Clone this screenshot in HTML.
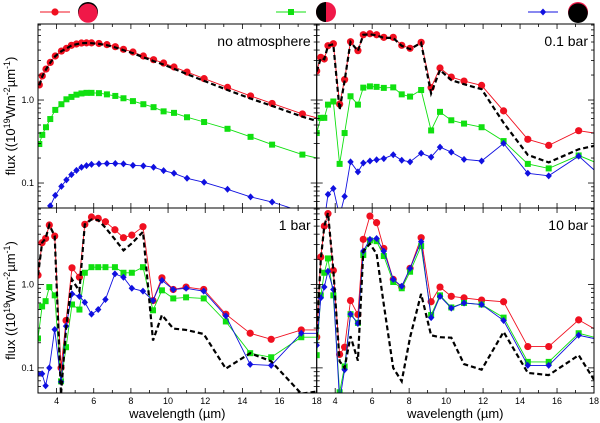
<!DOCTYPE html>
<html><head><meta charset="utf-8"><style>
body{margin:0;background:#fff;}
svg{display:block;font-family:"Liberation Sans",sans-serif;}
</style></head><body>
<svg id="c" width="600" height="423" viewBox="0 0 600 423"></svg>
<script>
// ---- data ----
const wlNoAtm=[3.07,3.23,3.43,3.66,3.93,4.26,4.53,4.8,5.07,5.34,5.61,5.88,6.28,6.71,7.16,7.6,8.11,8.67,9.22,9.76,10.32,11.02,11.94,13.2,14.44,15.6,17.23,18];
const noAtmRed=[1.52,1.95,2.36,2.84,3.39,3.89,4.19,4.56,4.73,4.86,4.88,4.88,4.8,4.65,4.39,4.08,3.79,3.39,3.06,2.79,2.5,2.17,1.81,1.42,1.12,0.91,0.68,0.61];
const noAtmBlack=[1.5,1.93,2.34,2.82,3.37,3.87,4.17,4.54,4.71,4.84,4.86,4.84,4.74,4.57,4.3,3.98,3.68,3.27,2.94,2.67,2.38,2.05,1.7,1.32,1.04,0.85,0.63,0.56];
const noAtmGreen=[0.295,0.38,0.47,0.59,0.76,0.89,1.02,1.09,1.16,1.2,1.22,1.22,1.21,1.17,1.12,1.05,0.97,0.89,0.82,0.73,0.7,0.62,0.543,0.45,0.36,0.29,0.22,0.2];
const noAtmBlue=[0.03,0.035,0.042,0.053,0.071,0.091,0.109,0.126,0.142,0.155,0.162,0.168,0.17,0.172,0.172,0.17,0.163,0.161,0.155,0.141,0.131,0.114,0.102,0.084,0.068,0.059,0.045,0.04];
const wl=[3.0,3.22,3.41,3.61,3.9,4.24,4.51,4.83,5.23,5.52,5.88,6.24,6.63,7.14,7.6,8.05,8.65,9.19,9.67,10.28,10.97,11.92,13.11,14.42,15.55,17.17,18.0];
const p01Red=[2.24,3.27,3.12,4.51,4.77,0.89,1.76,5.04,3.93,6.12,6.29,6.12,5.69,5.69,4.56,4.2,4.96,1.41,2.43,1.89,1.69,1.5,0.74,0.336,0.284,0.427,0.4];
const p01Black=[2.2,3.2,3.1,4.5,4.7,0.76,1.7,5.0,3.9,6.1,6.2,6.0,5.6,5.6,4.5,4.1,4.9,1.2,2.3,1.74,1.55,1.35,0.53,0.218,0.177,0.255,0.28];
const p01Green=[0.4,0.61,0.61,0.88,0.96,0.17,0.4,1.11,0.88,1.41,1.46,1.44,1.4,1.42,1.17,1.1,1.32,0.43,0.72,0.57,0.52,0.47,0.32,0.17,0.15,0.215,0.18];
const p01Blue=[0.03,0.03,0.035,0.073,0.086,0.04,0.069,0.18,0.136,0.174,0.184,0.191,0.197,0.219,0.188,0.18,0.228,0.205,0.271,0.236,0.193,0.184,0.3,0.131,0.122,0.211,0.144];
const p1Red=[1.29,3.16,3.56,5.15,3.8,0.1,0.37,1.58,1.22,5.25,6.43,6.2,5.64,4.52,3.63,3.9,4.92,0.64,1.2,0.87,0.93,0.87,0.44,0.26,0.22,0.285,0.285];
const p1Black=[1.29,3.16,3.56,5.15,3.8,0.048,0.3,1.15,0.83,5.25,6.0,5.9,4.78,3.47,2.56,3.1,4.27,0.213,0.43,0.296,0.285,0.255,0.098,0.15,0.12,0.049,0.052];
const p1Green=[0.225,0.545,0.63,0.93,0.74,0.069,0.177,0.575,0.5,1.38,1.61,1.61,1.61,1.61,1.38,1.38,1.61,0.49,0.85,0.68,0.7,0.68,0.36,0.15,0.134,0.233,0.233];
const p1Blue=[0.085,0.085,0.061,0.1,0.288,0.068,0.316,0.77,0.72,0.61,0.44,0.5,0.66,1.34,1.22,0.9,0.83,0.64,1.12,0.87,0.9,0.83,0.42,0.11,0.107,0.26,0.26];
const p10Red=[0.233,2.13,5.0,7.05,1.47,0.145,0.177,0.64,0.436,3.47,6.6,5.5,2.7,1.15,0.93,1.56,3.63,0.62,0.93,0.72,0.69,0.65,0.62,0.18,0.18,0.376,0.296];
const p10Black=[0.233,2.0,5.0,7.2,1.5,0.12,0.1,0.24,0.122,2.5,3.07,2.33,0.575,0.1,0.069,0.233,0.77,0.246,0.233,0.23,0.111,0.095,0.27,0.087,0.082,0.142,0.072];
const p10Green=[0.142,0.74,1.38,2.05,0.74,0.051,0.104,0.44,0.346,2.25,3.37,3.3,2.19,1.07,0.9,1.42,2.88,0.43,0.74,0.53,0.6,0.575,0.4,0.118,0.118,0.26,0.233];
const p10Blue=[0.187,0.69,0.93,1.44,0.87,0.04,0.095,0.44,0.34,2.51,3.47,3.55,2.51,1.15,0.95,1.56,3.25,0.4,0.72,0.52,0.6,0.575,0.37,0.107,0.107,0.246,0.225];
const panelLabels=["no atmosphere","0.1 bar","1 bar","10 bar"];
const xTicks=[4,6,8,10,12,14,16,18];
const yTicks=[0.1,1.0];
const yTickLabels=["0.1","1.0"];

// ---- layout ----
const NS="http://www.w3.org/2000/svg";
const svg=document.getElementById('c');
function mk(tag,attrs,parent){const e=document.createElementNS(NS,tag);for(const k in attrs)e.setAttribute(k,attrs[k]);(parent||svg).appendChild(e);return e;}
const panels=[{x0:38,x1:316.7,y0:24,y1:208},{x0:316.7,x1:594,y0:24,y1:208},{x0:38,x1:316.7,y0:208,y1:393},{x0:316.7,x1:594,y0:208,y1:393}];
const XMIN=3,XMAX=18,YLO=0.05,YHI=8.24;
function sx(p,v){return p.x0+(v-XMIN)/(XMAX-XMIN)*(p.x1-p.x0);}
function sy(p,v){return p.y1-(Math.log10(v)-Math.log10(YLO))/(Math.log10(YHI)-Math.log10(YLO))*(p.y1-p.y0);}
const defs=mk('defs',{});
const series=[
 [[wlNoAtm,noAtmRed,'red'],[wlNoAtm,noAtmGreen,'green'],[wlNoAtm,noAtmBlue,'blue'],[wlNoAtm,noAtmBlack,'black']],
 [[wl,p01Red,'red'],[wl,p01Green,'green'],[wl,p01Blue,'blue'],[wl,p01Black,'black']],
 [[wl,p1Red,'red'],[wl,p1Green,'green'],[wl,p1Blue,'blue'],[wl,p1Black,'black']],
 [[wl,p10Red,'red'],[wl,p10Green,'green'],[wl,p10Blue,'blue'],[wl,p10Black,'black']]];
const colors={red:'#f01020',green:'#10e010',blue:'#1010e0',black:'#000'};
function marker(g,kind,x,y){
 let m;
 if(kind==='red')m=mk('circle',{cx:x,cy:y,r:3.6,fill:'#f01020'},g);
 else if(kind==='green')m=mk('rect',{x:x-3,y:y-3,width:6,height:6,fill:'#10e010'},g);
 else m=mk('path',{d:`M${x} ${y-3.5}L${x+3.2} ${y}L${x} ${y+3.5}L${x-3.2} ${y}Z`,fill:'#1010e0'},g);
 return m;
}
panels.forEach((p,i)=>{
 const cp=mk('clipPath',{id:'cp'+i},defs);
 mk('rect',{x:p.x0,y:p.y0,width:p.x1-p.x0,height:p.y1-p.y0},cp);
 const g=mk('g',{'clip-path':`url(#cp${i})`});
 
 
 series[i].forEach(([xs,ys,col])=>{
  const d=xs.map((x,k)=>(k?'L':'M')+sx(p,x).toFixed(1)+' '+sy(p,ys[k]).toFixed(1)).join('');
  const l=mk('path',{d:d,fill:'none',stroke:colors[col],'stroke-width':col==='black'?2.2:0.9},g);
  if(col==='black')l.setAttribute('stroke-dasharray','5,3');
  
  
  if(col!=='black'){
   for(let k=0;k<xs.length-1;k++){
    const m=marker(g,col,sx(p,xs[k]),sy(p,ys[k]));
    
    
   }
  }
 });
 // frame
 const fr=mk('rect',{x:p.x0,y:p.y0,width:p.x1-p.x0,height:p.y1-p.y0,fill:'none',stroke:'#000','stroke-width':1});
 
 
 // x ticks
 for(let v=3;v<=18;v++){
  const x=sx(p,v),len=(v%2===0)?5:3;
  mk('line',{x1:x,x2:x,y1:p.y1,y2:p.y1-len,stroke:'#000','stroke-width':0.8});
  mk('line',{x1:x,x2:x,y1:p.y0,y2:p.y0+len,stroke:'#000','stroke-width':0.8});
 }
 // y ticks
 [0.01,0.1,1].forEach(dec=>{for(let m=1;m<10;m++){const v=dec*m;if(v<YLO||v>YHI)continue;const y=sy(p,v),len=m===1?6:3;
  mk('line',{x1:p.x0,x2:p.x0+len,y1:y,y2:y,stroke:'#000','stroke-width':0.8});
  mk('line',{x1:p.x1,x2:p.x1-len,y1:y,y2:y,stroke:'#000','stroke-width':0.8});}});
 const t=mk('text',{x:p.x1-6,y:p.y0+22,'text-anchor':'end','font-size':14});
 t.textContent=panelLabels[i];
 
 
 if(i%2===0){
  yTicks.forEach((v,k)=>{const tt=mk('text',{x:p.x0-4,y:sy(p,v)+3,'text-anchor':'end','font-size':9});tt.textContent=yTickLabels[k];
   
   });
  const yt=mk('text',{x:0,y:0,'text-anchor':'middle','font-size':13,transform:`translate(15,${(p.y0+p.y1)/2}) rotate(-90)`});
  yt.innerHTML='flux ((10<tspan dy="-5" font-size="9">19</tspan><tspan dy="5">Wm</tspan><tspan dy="-5" font-size="9">-2</tspan><tspan dy="5">µm</tspan><tspan dy="-5" font-size="9">-1</tspan><tspan dy="5">)</tspan>';
  
  
 }
 if(i>=2){
  xTicks.forEach(v=>{const tt=mk('text',{x:sx(p,v),y:p.y1+11,'text-anchor':'middle','font-size':9});tt.textContent=v;
   
   });
  const xt=mk('text',{x:(p.x0+p.x1)/2,y:418,'text-anchor':'middle','font-size':13});
  xt.textContent='wavelength (µm)';
  
  
 }
});
// legend
function legLine(x1,x2,col){const l=mk('line',{x1:x1,x2:x2,y1:12,y2:12,stroke:colors[col],'stroke-width':0.9});
 
 
 const m=marker(svg,col,(x1+x2)/2,12);
 
 }
legLine(40,70,'red');legLine(276,306,'green');legLine(528,558,'blue');
// planet icons
const g1=mk('g',{});
mk('circle',{cx:88,cy:12,r:10,fill:'#000'},g1);mk('circle',{cx:88,cy:13.2,r:9.6,fill:'#f01848'},g1);
const g2=mk('g',{});
mk('circle',{cx:326,cy:12,r:10,fill:'#f01848'},g2);mk('path',{d:'M326 2A10 10 0 0 0 326 22Z',fill:'#000'},g2);
const g3=mk('g',{});
mk('circle',{cx:578,cy:12,r:10,fill:'#f01848'},g3);mk('circle',{cx:578,cy:13.2,r:9.8,fill:'#000'},g3);
</script>
</body></html>
